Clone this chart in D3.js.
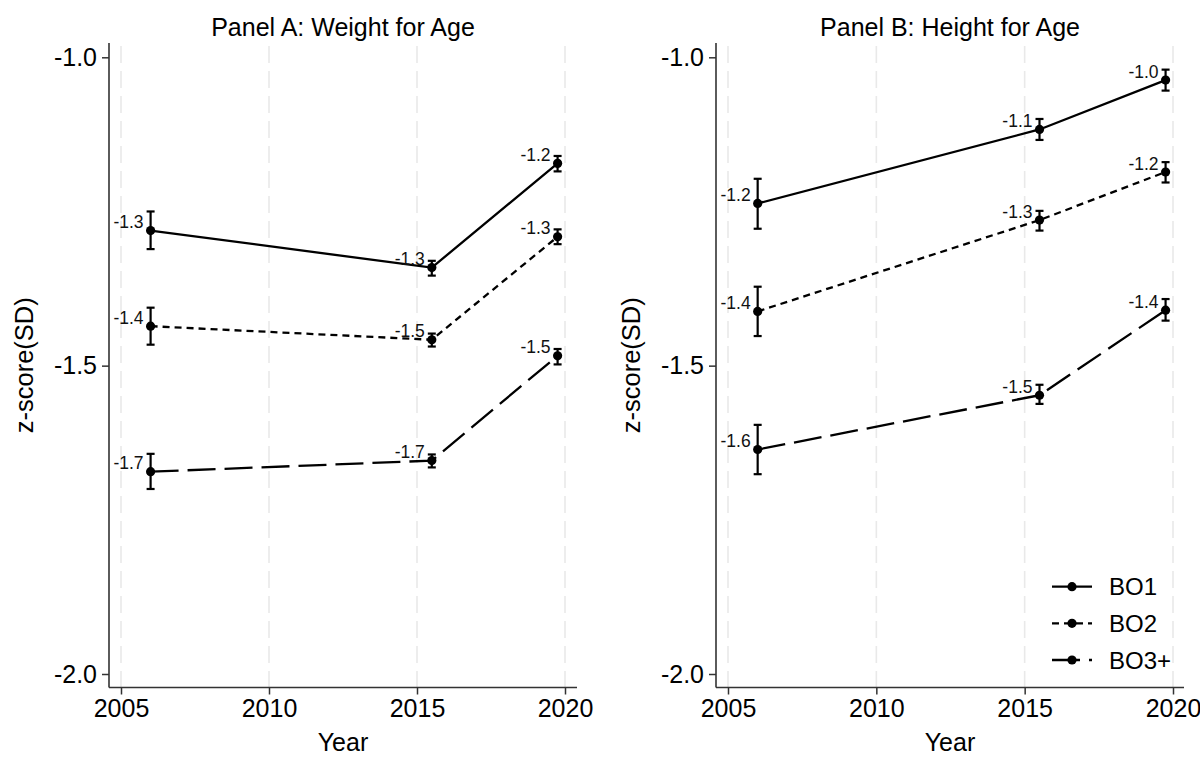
<!DOCTYPE html>
<html>
<head>
<meta charset="utf-8">
<style>
    body { margin: 0; background: #fff; }
    svg { display: block; font-family: "Liberation Sans", Arial, sans-serif; }
</style>
</head>
<body>
<svg id="chart" width="1200" height="758"></svg>
<script src="https://cdn.jsdelivr.net/npm/d3@7"></script>
<script>
    // survey years (x) and groups
    const years = [2006, 2015.5, 2019.75];
    const groups = ["BO1", "BO2", "BO3+"];
    const yearTicks = [2005, 2010, 2015, 2020];
    const zTicks = [-2.0, -1.5, -1.0];

    // Panel A: weight for age (mean, lower CI, upper CI)
    const wfaBO1 = [-1.281, -1.341, -1.172];
    const wfaBO1Lo = [-1.311, -1.354, -1.185];
    const wfaBO1Hi = [-1.250, -1.330, -1.160];
    const wfaBO2 = [-1.436, -1.458, -1.291];
    const wfaBO2Lo = [-1.466, -1.469, -1.303];
    const wfaBO2Hi = [-1.406, -1.448, -1.279];
    const wfaBO3 = [-1.672, -1.654, -1.484];
    const wfaBO3Lo = [-1.700, -1.665, -1.498];
    const wfaBO3Hi = [-1.643, -1.644, -1.473];

    // Panel B: height for age
    const hfaBO1 = [-1.237, -1.117, -1.037];
    const hfaBO1Lo = [-1.278, -1.134, -1.054];
    const hfaBO1Hi = [-1.197, -1.100, -1.020];
    const hfaBO2 = [-1.412, -1.264, -1.186];
    const hfaBO2Lo = [-1.452, -1.281, -1.203];
    const hfaBO2Hi = [-1.372, -1.249, -1.170];
    const hfaBO3 = [-1.636, -1.548, -1.410];
    const hfaBO3Lo = [-1.676, -1.562, -1.427];
    const hfaBO3Hi = [-1.596, -1.531, -1.392];

    const dashes = { "BO1": null, "BO2": "7,5", "BO3+": "28,9" };

    const panels = [
        { title: "Panel A: Weight for Age", left: 109, right: 577, x0: 121, x1: 565,
          series: [[wfaBO1, wfaBO1Lo, wfaBO1Hi], [wfaBO2, wfaBO2Lo, wfaBO2Hi], [wfaBO3, wfaBO3Lo, wfaBO3Hi]] },
        { title: "Panel B: Height for Age", left: 716, right: 1184, x0: 728, x1: 1173,
          series: [[hfaBO1, hfaBO1Lo, hfaBO1Hi], [hfaBO2, hfaBO2Lo, hfaBO2Hi], [hfaBO3, hfaBO3Lo, hfaBO3Hi]] }
    ];

    const plotTop = 43, plotBottom = 687.5;
    const svg = d3.select("#chart");
    const yScale = d3.scaleLinear().domain([-2, -1]).range([674, 57.3]);

    panels.forEach((p, pi) => {
        let xScale = d3.scaleLinear().domain([2005, 2020]).range([p.x0, p.x1]);
        let g = svg.append("g");

        // dashed vertical grid
        g.selectAll(".grid").data(yearTicks).enter().append("line")
            .attr("x1", d => xScale(d)).attr("x2", d => xScale(d))
            .attr("y1", plotTop + 3).attr("y2", plotBottom)
            .attr("stroke", "#e9e9e9").attr("stroke-width", 1.6)
            .attr("stroke-dasharray", "17,8");

        // axes
        let yAxis = g.append("g").attr("transform", `translate(${p.left},0)`)
            .call(d3.axisLeft(yScale).tickValues(zTicks).tickSize(7).tickPadding(5)
                .tickFormat(d => d.toFixed(1)));
        let xAxis = g.append("g").attr("transform", `translate(0,${plotBottom})`)
            .call(d3.axisBottom(xScale).tickValues(yearTicks).tickSize(7).tickPadding(5)
                .tickFormat(d3.format("d")));
        [yAxis, xAxis].forEach(a => {
            a.select(".domain").remove();
            a.selectAll(".tick line").attr("stroke", "#333").attr("stroke-width", 1.5);
            a.selectAll(".tick text").attr("fill", "#000").style("font-size", "25px")
                .style("font-family", "'Liberation Sans', Arial, sans-serif");
        });
        g.append("line").attr("x1", p.left).attr("x2", p.left).attr("y1", plotTop).attr("y2", plotBottom)
            .attr("stroke", "#333").attr("stroke-width", 1.6);
        g.append("line").attr("x1", p.left).attr("x2", p.right).attr("y1", plotBottom).attr("y2", plotBottom)
            .attr("stroke", "#333").attr("stroke-width", 1.6);

        // titles
        g.append("text").attr("x", (p.left + p.right) / 2).attr("y", 36)
            .attr("text-anchor", "middle").style("font-size", "25px").text(p.title);
        g.append("text").attr("x", (p.left + p.right) / 2).attr("y", 751)
            .attr("text-anchor", "middle").style("font-size", "25px").text("Year");
        g.append("text")
            .attr("transform", `translate(${p.left - 85},${(plotTop + plotBottom) / 2}) rotate(-90)`)
            .attr("text-anchor", "middle").attr("dy", "0.35em")
            .style("font-size", "25.5px").text("z-score(SD)");

        // series
        p.series.forEach((s, si) => {
            let pts = years.map((yr, i) => ({ x: yr, m: s[0][i], lo: s[1][i], hi: s[2][i] }));
            let line = d3.line().x(d => xScale(d.x)).y(d => yScale(d.m));
            g.append("path").datum(pts).attr("d", line)
                .attr("fill", "none").attr("stroke", "#000").attr("stroke-width", 2.3)
                .attr("stroke-dasharray", dashes[groups[si]]);

            let pg = g.selectAll(".pt" + si).data(pts).enter().append("g");
            pg.append("line")
                .attr("x1", d => xScale(d.x)).attr("x2", d => xScale(d.x))
                .attr("y1", d => yScale(d.lo)).attr("y2", d => yScale(d.hi))
                .attr("stroke", "#000").attr("stroke-width", 2.2);
            ["lo", "hi"].forEach(k => {
                pg.append("line")
                    .attr("x1", d => xScale(d.x) - 4).attr("x2", d => xScale(d.x) + 4)
                    .attr("y1", d => yScale(d[k])).attr("y2", d => yScale(d[k]))
                    .attr("stroke", "#000").attr("stroke-width", 2.2);
            });
            pg.append("circle")
                .attr("cx", d => xScale(d.x)).attr("cy", d => yScale(d.m))
                .attr("r", 4.6).attr("fill", "#000");
            pg.append("text")
                .attr("x", d => xScale(d.x) - 7).attr("y", d => yScale(d.m) - 2.5)
                .attr("text-anchor", "end").style("font-size", "17.5px").attr("fill", "#111")
                .text(d => d.m.toFixed(1));
        });

        // legend in panel B
        if (pi === 1) {
            let rowScale = d3.scalePoint().domain(groups).range([586.7, 660]);
            let lg = svg.append("g").selectAll("g").data(groups).enter().append("g")
                .attr("transform", d => `translate(1052,${rowScale(d)})`);
            lg.append("line").attr("x1", 0).attr("x2", 40)
                .attr("stroke", "#000").attr("stroke-width", 2.3)
                .attr("stroke-dasharray", d => dashes[d]);
            lg.append("circle").attr("cx", 20).attr("r", 4.6).attr("fill", "#000");
            lg.append("text").attr("x", 57).attr("dy", "0.36em")
                .style("font-size", "24px").text(d => d);
        }
    });
</script>
</body>
</html>
